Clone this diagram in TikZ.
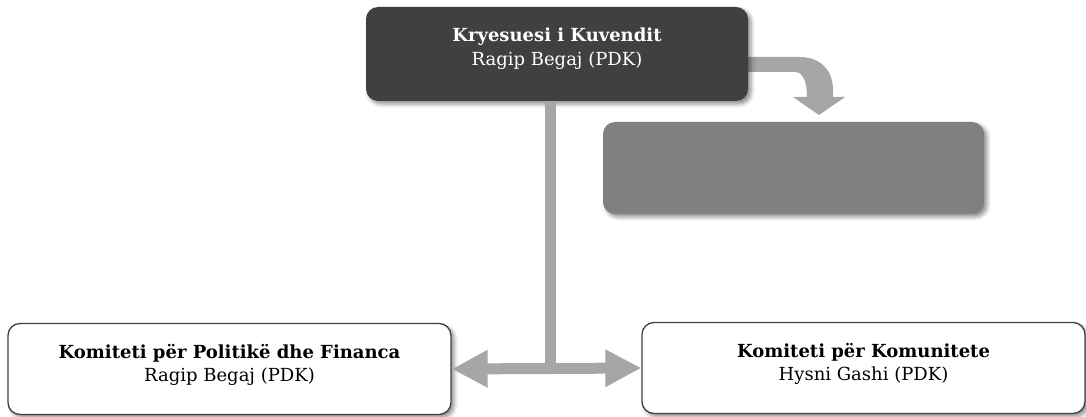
\documentclass[tikz,border=0pt]{standalone}
\usepackage{fontspec}
\setmainfont{DejaVu Serif}
\usetikzlibrary{arrows.meta,calc,shadows.blur}
\definecolor{darkbox}{HTML}{404040}
\definecolor{midbox}{HTML}{808080}
\definecolor{arrowgray}{HTML}{A6A6A6}
\definecolor{edgegray}{HTML}{404040}
\tikzset{
  shade/.style={blur shadow={shadow xshift=3pt,shadow yshift=-3pt,shadow blur radius=4pt,shadow opacity=45}},
  topbox/.style={rectangle,rounded corners=12pt,fill=darkbox,minimum width=382pt,minimum height=94pt,inner sep=0pt,shade},
  subbox/.style={rectangle,rounded corners=12pt,fill=midbox,minimum width=381pt,minimum height=92pt,inner sep=0pt,shade},
  unitbox/.style={rectangle,rounded corners=12pt,draw=edgegray,line width=1.3pt,fill=white,minimum width=443pt,minimum height=91pt,inner sep=0pt,shade},
  boxtext/.style={align=center,inner sep=0pt,font=\fontsize{18}{23.5}\selectfont},
  bar/.style={draw=arrowgray,line width=11pt},
  bararrow/.style={bar,-{Triangle[width=35pt,length=36pt]}},
  bentfill/.style={fill=arrowgray}
}
\begin{document}
\begin{tikzpicture}[x=1pt,y=-1pt]
\useasboundingbox (0,0) rectangle (1086,417);
% bent arrow (drawn first, under the top box)
\coordinate (bstart) at (740,57);
\coordinate (btip) at (819,115);
\fill[bentfill] (bstart) -- (800,57) .. controls (820,57) and (833,70) .. (833,90)
  -- (833,97) -- (845,97) -- (btip) -- (793,97) -- (807,97)
  .. controls (807,82) and (803,72) .. (795,72) -- (740,72) -- cycle;
% boxes
\node[topbox] (top) at (557,54) {};
\node[boxtext,text=white] (topT) at (557,48.5) {\textbf{Kryesuesi i Kuvendit}\\Ragip Begaj (PDK)};
\node[subbox] (sub) at (793.5,168) {};
\node[unitbox] (left) at (229.5,369) {};
\node[boxtext] (leftT) at (229.5,365) {\textbf{Komiteti për Politikë dhe Financa}\\Ragip Begaj (PDK)};
\node[unitbox] (right) at (863.5,368) {};
\node[boxtext] (rightT) at (863.5,364) {\textbf{Komiteti për Komunitete}\\Hysni Gashi (PDK)};
% connectors
\coordinate (j) at (550,368.5);
\coordinate (vtop) at (550,101);
\draw[bar] (vtop) -- ($(j)+(0,5.5)$);
\draw[bararrow] (j) -- (left.east);
\draw[bararrow] (j) -- (right.west);
\end{tikzpicture}
\end{document}
